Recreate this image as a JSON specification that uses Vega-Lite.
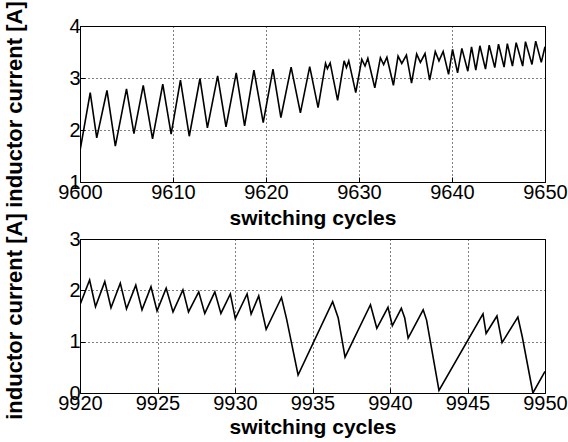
{
  "$schema": "https://vega.github.io/schema/vega-lite/v6.json",
  "background": "white",
  "padding": {"left": 3, "top": 0, "right": 10, "bottom": 2},
  "spacing": -17,
  "config": {
    "font": "Liberation Sans",
    "view": {"stroke": "black", "strokeWidth": 1},
    "axis": {
      "grid": true,
      "gridColor": "black",
      "gridDash": [1, 3],
      "gridOpacity": 1,
      "gridWidth": 1,
      "domain": false,
      "tickColor": "black",
      "tickSize": -5,
      "labelColor": "black",
      "labelFont": "Liberation Sans",
      "labelFontSize": 20,
      "labelPadding": 5,
      "titleColor": "black",
      "titleFont": "Liberation Sans",
      "titleFontSize": 21,
      "titleFontWeight": "bold"
    }
  },
  "datasets": {
    "top": [
      {"cycle": 9600, "current": 1.6},
      {"cycle": 9601.1, "current": 2.72},
      {"cycle": 9601.8, "current": 1.85},
      {"cycle": 9602.9, "current": 2.76},
      {"cycle": 9603.8, "current": 1.69},
      {"cycle": 9605.0, "current": 2.79},
      {"cycle": 9605.8, "current": 1.93},
      {"cycle": 9606.8, "current": 2.86},
      {"cycle": 9607.8, "current": 1.83},
      {"cycle": 9608.9, "current": 2.88},
      {"cycle": 9609.8, "current": 1.92},
      {"cycle": 9610.8, "current": 2.96},
      {"cycle": 9611.75, "current": 1.88},
      {"cycle": 9612.9, "current": 2.99},
      {"cycle": 9613.7, "current": 2.04},
      {"cycle": 9614.8, "current": 3.04},
      {"cycle": 9615.7, "current": 2.06},
      {"cycle": 9616.8, "current": 3.1},
      {"cycle": 9617.7, "current": 2.08},
      {"cycle": 9618.7, "current": 3.15},
      {"cycle": 9619.7, "current": 2.14},
      {"cycle": 9620.75, "current": 3.17},
      {"cycle": 9621.6, "current": 2.24},
      {"cycle": 9622.7, "current": 3.21},
      {"cycle": 9623.7, "current": 2.33},
      {"cycle": 9624.7, "current": 3.22},
      {"cycle": 9625.6, "current": 2.43},
      {"cycle": 9626.4, "current": 3.28},
      {"cycle": 9626.6, "current": 3.18},
      {"cycle": 9626.9, "current": 3.29},
      {"cycle": 9627.7, "current": 2.57},
      {"cycle": 9628.4, "current": 3.33},
      {"cycle": 9628.65, "current": 3.2},
      {"cycle": 9628.9, "current": 3.33},
      {"cycle": 9629.65, "current": 2.72},
      {"cycle": 9630.3, "current": 3.36},
      {"cycle": 9630.65, "current": 3.23},
      {"cycle": 9630.95, "current": 3.38},
      {"cycle": 9631.7, "current": 2.81},
      {"cycle": 9632.3, "current": 3.39},
      {"cycle": 9632.65, "current": 3.26},
      {"cycle": 9633.0, "current": 3.4},
      {"cycle": 9633.7, "current": 2.86},
      {"cycle": 9634.2, "current": 3.42},
      {"cycle": 9634.6, "current": 3.28},
      {"cycle": 9635.1, "current": 3.44},
      {"cycle": 9635.65, "current": 2.9},
      {"cycle": 9636.2, "current": 3.46},
      {"cycle": 9636.6, "current": 3.3},
      {"cycle": 9637.1, "current": 3.47},
      {"cycle": 9637.6, "current": 2.96},
      {"cycle": 9638.2, "current": 3.51},
      {"cycle": 9638.6, "current": 3.33},
      {"cycle": 9639.05, "current": 3.51},
      {"cycle": 9639.63, "current": 3.07},
      {"cycle": 9640.06, "current": 3.55},
      {"cycle": 9640.6, "current": 3.1},
      {"cycle": 9641.06, "current": 3.57},
      {"cycle": 9641.7, "current": 3.13},
      {"cycle": 9642.1, "current": 3.6},
      {"cycle": 9642.56, "current": 3.15},
      {"cycle": 9643.0, "current": 3.62},
      {"cycle": 9643.6, "current": 3.17},
      {"cycle": 9644.0, "current": 3.63},
      {"cycle": 9644.6, "current": 3.2},
      {"cycle": 9645.0, "current": 3.65},
      {"cycle": 9645.6, "current": 3.21},
      {"cycle": 9645.95, "current": 3.66},
      {"cycle": 9646.5, "current": 3.23},
      {"cycle": 9646.9, "current": 3.68},
      {"cycle": 9647.6, "current": 3.23},
      {"cycle": 9647.9, "current": 3.7},
      {"cycle": 9648.6, "current": 3.26},
      {"cycle": 9649.0, "current": 3.71},
      {"cycle": 9649.6, "current": 3.3},
      {"cycle": 9650.0, "current": 3.6}
    ],
    "bottom": [
      {"cycle": 9920, "current": 1.72},
      {"cycle": 9920.62, "current": 2.2},
      {"cycle": 9921.0, "current": 1.68},
      {"cycle": 9921.6, "current": 2.17},
      {"cycle": 9922.0, "current": 1.66},
      {"cycle": 9922.6, "current": 2.14},
      {"cycle": 9923.0, "current": 1.64},
      {"cycle": 9923.6, "current": 2.1},
      {"cycle": 9924.0, "current": 1.62},
      {"cycle": 9924.58, "current": 2.07},
      {"cycle": 9924.97, "current": 1.6},
      {"cycle": 9925.56, "current": 2.04},
      {"cycle": 9926.0, "current": 1.58},
      {"cycle": 9926.64, "current": 2.01},
      {"cycle": 9927.0, "current": 1.58},
      {"cycle": 9927.66, "current": 1.97},
      {"cycle": 9928.05, "current": 1.55},
      {"cycle": 9928.7, "current": 1.97},
      {"cycle": 9929.09, "current": 1.55},
      {"cycle": 9929.7, "current": 1.93},
      {"cycle": 9930.02, "current": 1.45},
      {"cycle": 9930.78, "current": 1.93},
      {"cycle": 9931.04, "current": 1.54},
      {"cycle": 9931.53, "current": 1.89},
      {"cycle": 9932.01, "current": 1.24},
      {"cycle": 9933.0, "current": 1.86},
      {"cycle": 9933.33, "current": 1.44},
      {"cycle": 9934.07, "current": 0.35},
      {"cycle": 9936.3, "current": 1.78},
      {"cycle": 9936.66, "current": 1.46},
      {"cycle": 9937.1, "current": 0.7},
      {"cycle": 9938.74, "current": 1.72},
      {"cycle": 9939.15, "current": 1.26},
      {"cycle": 9939.87, "current": 1.67},
      {"cycle": 9940.15, "current": 1.31},
      {"cycle": 9940.73, "current": 1.65},
      {"cycle": 9940.95, "current": 1.46},
      {"cycle": 9941.17, "current": 1.07},
      {"cycle": 9942.14, "current": 1.62},
      {"cycle": 9942.36, "current": 1.42},
      {"cycle": 9943.16, "current": 0.05},
      {"cycle": 9946.0, "current": 1.54},
      {"cycle": 9946.2, "current": 1.16},
      {"cycle": 9946.9, "current": 1.5},
      {"cycle": 9947.23, "current": 0.98},
      {"cycle": 9948.25, "current": 1.48},
      {"cycle": 9948.53, "current": 1.1},
      {"cycle": 9949.22, "current": 0.0},
      {"cycle": 9950.0, "current": 0.42}
    ]
  },
  "vconcat": [
    {
      "width": 465,
      "height": 156,
      "data": {"name": "top"},
      "mark": {"type": "line", "color": "black", "strokeWidth": 1.6, "clip": true},
      "encoding": {
        "x": {
          "field": "cycle",
          "type": "quantitative",
          "scale": {"domain": [9600, 9650], "nice": false, "zero": false},
          "axis": {"values": [9600, 9610, 9620, 9630, 9640, 9650], "format": "d", "title": "switching cycles", "titlePadding": 5, "labelOverlap": false, "labelFlush": false}
        },
        "y": {
          "field": "current",
          "type": "quantitative",
          "scale": {"domain": [1, 4], "nice": false, "zero": false},
          "axis": {"values": [1, 2, 3, 4], "title": "inductor current [A]", "titleFontSize": 22, "titlePadding": 42, "labelOverlap": false, "labelFlush": false}
        }
      }
    },
    {
      "width": 465,
      "height": 154,
      "data": {"name": "bottom"},
      "mark": {"type": "line", "color": "black", "strokeWidth": 1.6, "clip": true},
      "encoding": {
        "x": {
          "field": "cycle",
          "type": "quantitative",
          "scale": {"domain": [9920, 9950], "nice": false, "zero": false},
          "axis": {"values": [9920, 9925, 9930, 9935, 9940, 9945, 9950], "format": "d", "title": "switching cycles", "titlePadding": 3, "labelOverlap": false, "labelFlush": false}
        },
        "y": {
          "field": "current",
          "type": "quantitative",
          "scale": {"domain": [0, 3], "nice": false, "zero": false},
          "axis": {"values": [0, 1, 2, 3], "title": "inductor current [A]", "titleFontSize": 22, "titlePadding": 42, "labelOverlap": false, "labelFlush": false}
        }
      }
    }
  ]
}
